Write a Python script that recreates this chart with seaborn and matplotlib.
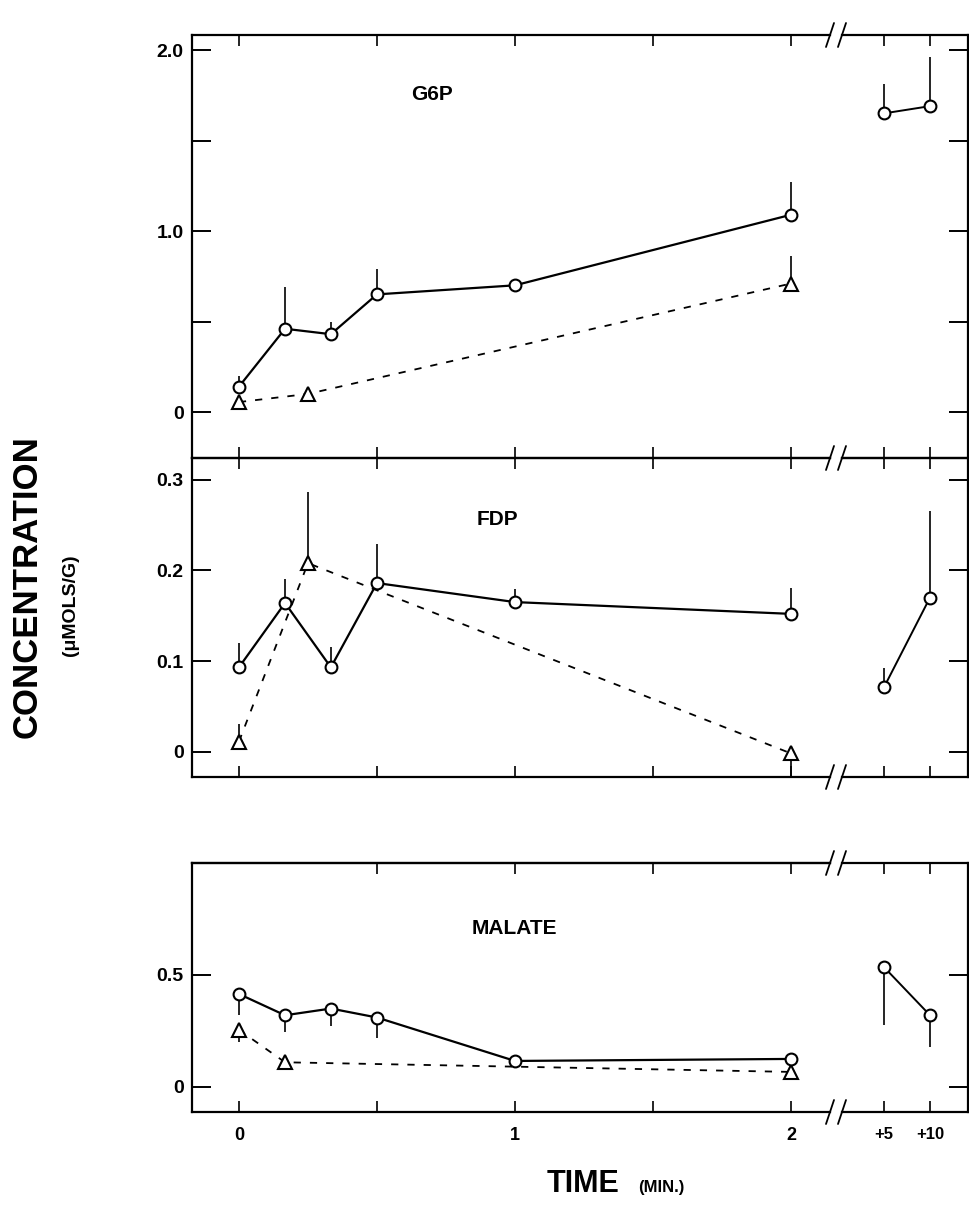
import matplotlib
matplotlib.use("Agg")
import matplotlib.pyplot as plt
from matplotlib.lines import Line2D
import seaborn as sns

# ---- sampling times (min) ----
t_early = [0.0, 0.167, 0.333, 0.5, 1.0, 2.0]
t_late = [5, 10]

# ---- G6P ----
g6p_circ = [0.14, 0.46, 0.43, 0.65, 0.70, 1.09]
g6p_circ_up = [0.06, 0.23, 0.07, 0.14, 0.03, 0.18]
g6p_tri_t = [0.0, 0.25, 2.0]
g6p_tri = [0.055, 0.10, 0.71]
g6p_tri_up = [0.0, 0.0, 0.15]
g6p_tri_dn = [0.0, 0.0, 0.0]
g6p_late = [1.65, 1.69]
g6p_late_up = [0.16, 0.27]

# ---- FDP ----
fdp_circ = [0.093, 0.164, 0.093, 0.186, 0.165, 0.152]
fdp_circ_up = [0.027, 0.026, 0.023, 0.043, 0.014, 0.029]
fdp_tri_t = [0.0, 0.25, 2.0]
fdp_tri = [0.011, 0.208, -0.002]
fdp_tri_up = [0.019, 0.078, 0.0]
fdp_tri_dn = [0.0, 0.0, 0.026]
fdp_late = [0.071, 0.170]
fdp_late_up = [0.021, 0.095]

# ---- MALATE ----
mal_circ = [0.415, 0.32, 0.35, 0.31, 0.116, 0.125]
mal_circ_dn = [0.095, 0.075, 0.08, 0.09, 0.0, 0.0]
mal_tri_t = [0.0, 0.167, 2.0]
mal_tri = [0.255, 0.11, 0.067]
mal_tri_up = [0.0, 0.0, 0.0]
mal_tri_dn = [0.055, 0.0, 0.0]
mal_late = [0.535, 0.32]
mal_late_dn = [0.26, 0.14]

panel_names = ["G6P", "FDP", "MALATE"]
x_ticks = [0, 0.5, 1, 1.5, 2]
x_ticklabels = ["0", "", "1", "", "2"]
late_ticklabels = ["+5", "+10"]

sns.set_theme(style="white")
plt.rcParams["font.family"] = ["Liberation Sans", "DejaVu Sans"]
plt.rcParams["font.weight"] = "bold"

W, H = 969, 1222
fig = plt.figure(figsize=(W / 100, H / 100), dpi=100)
fig.patch.set_facecolor("white")


def fx(px):
    return px / W


def fy(px):
    return 1 - px / H


X_LEFT, X_BREAK_L, X_BREAK_R, X_RIGHT = 192, 830, 842, 968
rows = [(35, 458), (458, 777), (863, 1112)]
ylims = [(-0.254, 2.083), (-0.028, 0.324), (-0.112, 1.0)]
yticks = [[0, 0.5, 1.0, 1.5, 2.0], [0, 0.1, 0.2, 0.3], [0, 0.5]]
yticklabels = [["0", "", "1.0", "", "2.0"], ["0", "0.1", "0.2", "0.3"], ["0", "0.5"]]
label_pos = [(432, 94), (497, 520), (514, 929)]

SP_LW = 1.6


def style_axes(axL, axR, i):
    for ax in (axL, axR):
        ax.set_facecolor("none")
        for s in ax.spines.values():
            s.set_linewidth(SP_LW)
            s.set_color("black")
        ax.tick_params(axis="x", which="both", direction="in", top=True, bottom=True,
                       length=8, width=1.2, color="black", pad=11,
                       labelsize=13, labelcolor="black")
        ax.tick_params(axis="y", which="both", direction="in", length=14, width=1.4,
                       color="black", pad=6, labelsize=14, labelcolor="black")
        ax.set_ylim(*ylims[i])
        ax.set_yticks(yticks[i])
        ax.set_xlabel("")
        ax.set_ylabel("")
        ax.grid(False)
    axL.spines["right"].set_visible(False)
    axR.spines["left"].set_visible(False)
    axL.set_xlim(-0.170, 2.141)
    axR.set_xlim(0.435, 14.13)
    axL.set_xticks(x_ticks)
    axR.set_xticks(t_late)
    axL.set_yticklabels(yticklabels[i], fontweight="bold")
    axL.tick_params(axis="y", left=True, right=False, labelleft=True)
    axR.tick_params(axis="y", left=False, right=True, labelleft=False, labelright=False)
    if i == 2:
        axL.set_xticklabels(x_ticklabels, fontweight="bold")
        axR.set_xticklabels(late_ticklabels, fontweight="bold", fontsize=12)
        # the top edge of the lowest panel carries no tick at zero
        axL.tick_params(axis="x", top=False)
        sec = axL.secondary_xaxis("top")
        sec.set_xticks(x_ticks[1:])
        sec.tick_params(axis="x", direction="in", length=8, width=1.2,
                        color="black", labeltop=False)
        sec.spines["top"].set_linewidth(SP_LW)
    else:
        axL.tick_params(axis="x", labelbottom=False)
        axR.tick_params(axis="x", labelbottom=False)


def one_sided(ax, xs, ys, up=None, dn=None):
    for j, (x, y) in enumerate(zip(xs, ys)):
        if up is not None and up[j] > 0:
            ax.vlines(x, y, y + up[j], color="black", lw=1.2, zorder=2)
        if dn is not None and dn[j] > 0:
            ax.vlines(x, y - dn[j], y, color="black", lw=1.2, zorder=2)


circ_kw = dict(color="black", marker="o", markersize=8.5, markerfacecolor="white",
               markeredgecolor="black", markeredgewidth=1.5, estimator=None,
               sort=False, zorder=4)
tri_kw = dict(color="black", marker="^", markersize=10, markerfacecolor="white",
              markeredgecolor="black", markeredgewidth=1.5, estimator=None,
              sort=False, zorder=3)

series = [
    (g6p_circ, g6p_circ_up, None, g6p_tri_t, g6p_tri, g6p_tri_up, g6p_tri_dn,
     g6p_late, g6p_late_up, None),
    (fdp_circ, fdp_circ_up, None, fdp_tri_t, fdp_tri, fdp_tri_up, fdp_tri_dn,
     fdp_late, fdp_late_up, None),
    (mal_circ, None, mal_circ_dn, mal_tri_t, mal_tri, mal_tri_up, mal_tri_dn,
     mal_late, None, mal_late_dn),
]

for i, (top, bot) in enumerate(rows):
    h = (bot - top) / H
    axL = fig.add_axes([fx(X_LEFT), fy(bot), (X_BREAK_L - X_LEFT) / W, h])
    axR = fig.add_axes([fx(X_BREAK_R), fy(bot), (X_RIGHT - X_BREAK_R) / W, h])

    (c, c_up, c_dn, tt, tv, t_up, t_dn, lv, l_up, l_dn) = series[i]

    sns.lineplot(x=t_early, y=c, ax=axL, linewidth=1.6, **circ_kw)
    one_sided(axL, t_early, c, c_up, c_dn)
    sns.lineplot(x=tt, y=tv, ax=axL, linewidth=1.3, linestyle=(0, (4, 5)), **tri_kw)
    one_sided(axL, tt, tv, t_up, t_dn)

    sns.lineplot(x=t_late, y=lv, ax=axR, linewidth=1.4, **circ_kw)
    one_sided(axR, t_late, lv, l_up, l_dn)

    style_axes(axL, axR, i)

    fig.text(fx(label_pos[i][0]), fy(label_pos[i][1]), panel_names[i],
             ha="center", va="center", fontsize=15, fontweight="bold", color="black")

# break marks on every horizontal border
for yb in [35, 458, 777, 863, 1112]:
    for xb in [X_BREAK_L, X_BREAK_R]:
        fig.add_artist(Line2D([fx(xb - 4), fx(xb + 4)], [fy(yb + 12), fy(yb - 12)],
                              transform=fig.transFigure, color="black", lw=1.3))

# axis titles
fig.text(fx(27), fy(587), "CONCENTRATION", rotation=90, ha="center", va="center",
         fontsize=25, fontweight="bold", color="black")
fig.text(fx(70), fy(605), "(\u03bcMOLS/G)", rotation=90, ha="center", va="center",
         fontsize=14, fontweight="bold", color="black")
fig.text(fx(547), fy(1192), "TIME", ha="left", va="baseline",
         fontsize=22, fontweight="bold", color="black")
fig.text(fx(638), fy(1192), "(MIN.)", ha="left", va="baseline",
         fontsize=12, fontweight="bold", color="black")

fig.savefig("out.png", dpi=100, facecolor="white")
